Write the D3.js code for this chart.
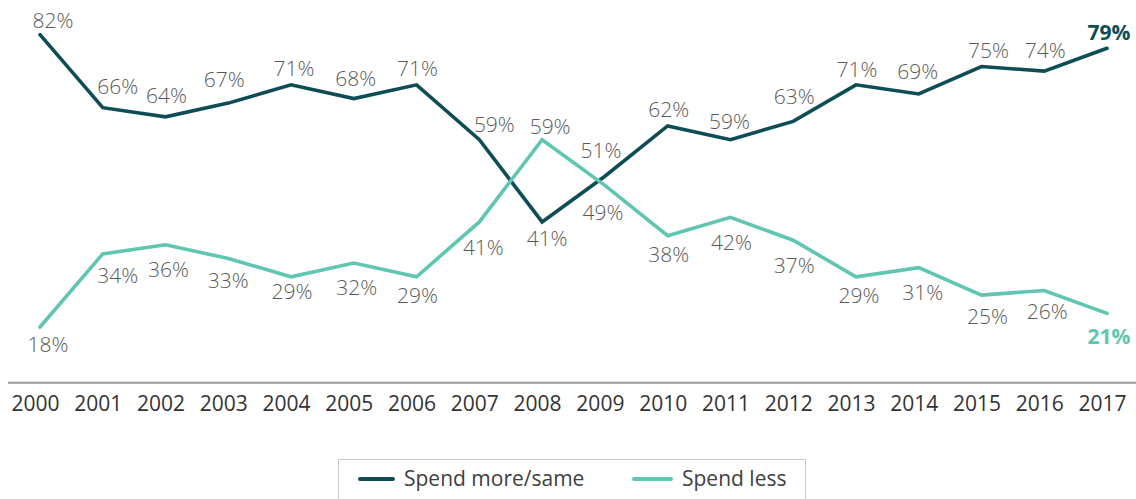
<!DOCTYPE html>
<html><head><meta charset="utf-8">
<script src="https://cdn.jsdelivr.net/npm/d3@7"></script>
<style>
body{margin:0;background:#fff;}
svg{display:block;font-family:'Open Sans',sans-serif;}
</style>
</head><body>
<svg id="chart" width="1136" height="499"></svg>
<script>
// ---- data ----
const years = ["2000","2001","2002","2003","2004","2005","2006","2007","2008","2009","2010","2011","2012","2013","2014","2015","2016","2017"];
const spendMoreSame = [82,66,64,67,71,68,71,59,41,51,62,59,63,71,69,75,74,79];
const spendLess = [18,34,36,33,29,32,29,41,59,49,38,42,37,29,31,25,26,21];
const seriesNames = ["Spend more/same","Spend less"];

// ---- layout (label nudges relative to each point, px) ----
const nudgeDark = [[13,-14],[15,-21],[1,-21],[-4,-24],[3,-16],[2,-20],[1,-16],[15,-15],[5,17],[-4,-26],[1,-16],[-1,-18],[1,-25],[1,-15],[-1,-22],[7,-16],[1,-21],[2,-16]];
const nudgeLight = [[8,17],[15,22],[3,25],[0,22],[1,15],[3,24],[1,19],[4,26],[8,-13],[-2,27],[1,19],[1,25],[1,25],[3,19],[4,25],[6,21],[3,21],[2,23]];

const darkC = "#0f4d56", lightC = "#5fc6b1";
const svg = d3.select("#chart");

const x = d3.scalePoint().domain(years).range([40,1107]);
const y = d3.scaleLinear().domain([0,100]).range([409.3,-47.7]);
const axisY = 382.7;

// baseline
svg.append("line").attr("x1",8).attr("x2",1136).attr("y1",axisY).attr("y2",axisY)
  .attr("stroke","#999").attr("stroke-width",2);

// x axis labels
const ax = svg.append("g").attr("transform",`translate(0,${axisY})`)
  .call(d3.axisBottom(x).tickSize(0));
ax.select(".domain").remove();
ax.selectAll("text").attr("y",28.3).attr("dy",0).attr("dx",-5)
  .attr("font-size",21).attr("font-family","'Open Sans',sans-serif").attr("fill","#333");

const line = d3.line().x((d,i)=>x(years[i])).y(d=>y(d));
const series = [
  {name:seriesNames[0], values:spendMoreSame, color:darkC, nudge:nudgeDark},
  {name:seriesNames[1], values:spendLess, color:lightC, nudge:nudgeLight}
];

series.forEach(s=>{
  svg.append("path").datum(s.values).attr("d",line)
    .attr("fill","none").attr("stroke",s.color).attr("stroke-width",3.6)
    .attr("stroke-linejoin","miter").attr("stroke-linecap","round");
});

series.forEach(s=>{
  svg.append("g").selectAll("text").data(s.values).join("text")
    .attr("x",(d,i)=>x(years[i])+s.nudge[i][0])
    .attr("y",(d,i)=>y(d)+s.nudge[i][1]+7.5)
    .attr("text-anchor","middle")
    .attr("font-size",21)
    .attr("font-weight",(d,i)=>i===years.length-1?700:300)
    .attr("fill",(d,i)=>i===years.length-1?s.color:"#5a5a5a")
    .text(d=>d+"%");
});

// legend
const lg = svg.append("g");
lg.append("rect").attr("x",338.5).attr("y",459.5).attr("width",467).attr("height",60)
  .attr("fill","none").attr("stroke","#cccccc").attr("stroke-width",1);
const legendItems = [
  {name:seriesNames[0], color:darkC, x1:360, x2:393, tx:404},
  {name:seriesNames[1], color:lightC, x1:634, x2:671, tx:682}
];
legendItems.forEach(it=>{
  lg.append("line").attr("x1",it.x1).attr("x2",it.x2).attr("y1",479).attr("y2",479)
    .attr("stroke",it.color).attr("stroke-width",4).attr("stroke-linecap","round");
  lg.append("text").attr("x",it.tx).attr("y",486).attr("font-size",21)
    .attr("fill","#404040").text(it.name);
});
</script>
</body></html>
